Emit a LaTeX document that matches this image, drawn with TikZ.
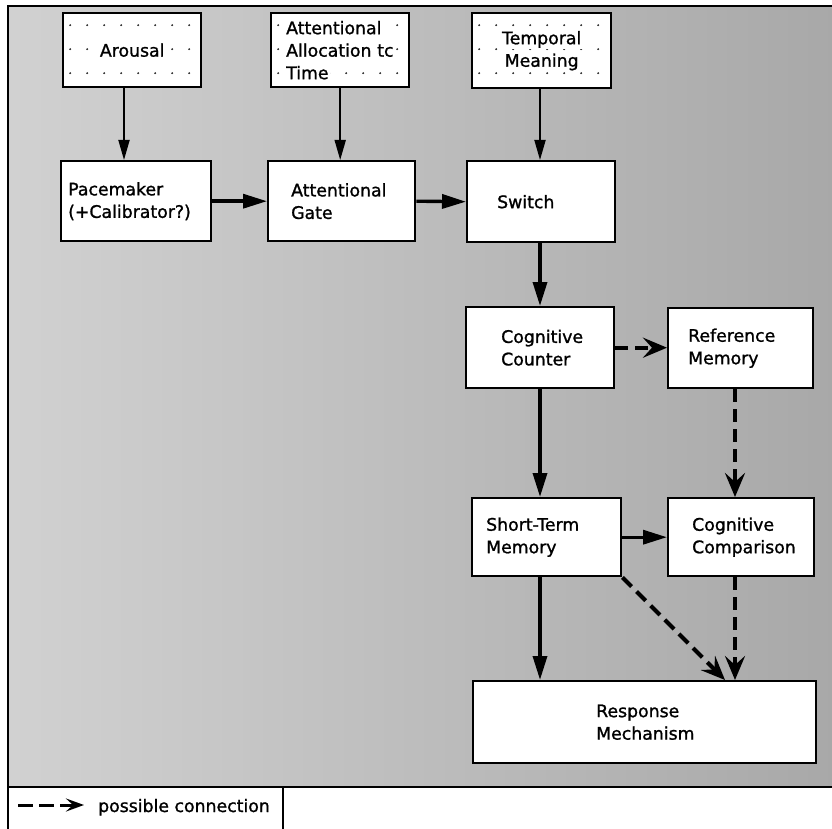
\documentclass[tikz,border=0pt]{standalone}
\usepackage{fontspec}
\setmainfont{DejaVu Sans}[FakeBold=1.2]
\usetikzlibrary{arrows.meta}
\hyphenpenalty=10000
\exhyphenpenalty=10000
\newcommand{\lblfont}{\fontsize{17.3}{22.5}\selectfont}
\newcommand{\wbg}[1]{{\setlength{\fboxsep}{1.5pt}\colorbox{white}{#1}}}
\begin{document}
\begin{tikzpicture}[x=1pt,y=-1pt,
  lbl/.style={font=\lblfont},
  box/.style={draw, line width=2.4pt, fill=white, anchor=north west, inner xsep=0pt, inner ysep=0pt, align=left, lbl},
  dotbox/.style={box, align=center, path picture={
      \foreach \i in {0,...,7} \foreach \j in {0,1,2}
        \fill[black!85] ([xshift=7pt+\i*17pt, yshift=-12pt-\j*24pt]path picture bounding box.north west) circle (1.05pt);}},
  thinarrow/.style={line width=1.8pt, -{Triangle[length=20pt,width=11pt]}},
  thickarrow/.style={line width=3.4pt, -{Triangle[length=24pt,width=14pt]}},
  possible/.style={line width=4.2pt, dash pattern=on 13pt off 7pt, -{Stealth[length=24pt,width=20pt,inset=9pt]}},
  framebd/.style={line width=2.6pt}
]
\useasboundingbox (0,0) rectangle (832,829);
% background frame
\shade[left color=black!18, right color=black!34] (8,6) rectangle (832,787);
\draw[framebd] (832,6) -- (8,6) -- (8,787) -- (832,787);
% legend
\draw[framebd] (8,787) -- (8,835) (283,787) -- (283,835);
\coordinate (lgA) at (18,805);
\coordinate (lgB) at (84,805);
\draw[line width=3pt, dash pattern=on 15pt off 6pt, -{Stealth[length=18pt,width=13pt,inset=7pt]}] (lgA) -- (lgB);
\node[lbl, anchor=base west, inner sep=0pt] (lgtext) at (98,812) {possible connection};

% top dotted boxes
\node[dotbox, minimum width=138pt, minimum height=74pt, text width=120pt] (arousal) at (62,12) {\wbg{Arousal}};
\node[dotbox, align=left, minimum width=138pt, minimum height=74pt, text width=111pt] (alloc) at (270,12) {\wbg{Attentional}\\\wbg{Allocation tc}\\\wbg{Time}};
\node[dotbox, minimum width=139pt, minimum height=75pt, text width=121pt] (temporal) at (471,12) {\wbg{Temporal}\\\wbg{Meaning}};

% main boxes
\node[box, minimum width=150pt, minimum height=80pt, text width=136pt] (pacemaker) at (60,160) {Pacemaker\\(+Calibrator?)};
\node[box, minimum width=147pt, minimum height=80pt, text width=101pt] (gate) at (267,160) {Attentional\\Gate};
\node[box, minimum width=148pt, minimum height=81pt, text width=88pt] (switch) at (466,160) {Switch};
\node[box, minimum width=148pt, minimum height=81pt, text width=78pt] (counter) at (465,306) {Cognitive\\Counter};
\node[box, minimum width=145pt, minimum height=80pt, text width=105pt] (reference) at (667,307) {Reference\\Memory};
\node[box, minimum width=149pt, minimum height=78pt, text width=121pt] (stm) at (471,497) {Short-Term\\Memory};
\node[box, minimum width=146pt, minimum height=78pt, text width=98pt] (comparison) at (667,497) {Cognitive\\Comparison};
\node[box, minimum width=343pt, minimum height=82pt, text width=97pt] (response) at (472,680) {Response\\Mechanism};

% helper columns
\coordinate (c124) at (124,0);
\coordinate (c540) at (540,0);
\coordinate (c735) at (735,0);
\coordinate (d725) at (725,0);

% connectors
\draw[thinarrow] (arousal.south -| c124) -- (pacemaker.north -| c124);
\draw[thinarrow] (alloc.south) -- (alloc.south |- gate.north);
\draw[thinarrow] (temporal.south -| c540) -- (switch.north -| c540);
\draw[thickarrow] (pacemaker.east) -- (gate.west);
\draw[thickarrow] (gate.east) -- (switch.west);
\draw[thickarrow] (switch.south -| c540) -- (counter.north -| c540);
\draw[possible] (counter.east) -- (counter.east -| reference.west);
\draw[thickarrow] (counter.south -| c540) -- (stm.north -| c540);
\draw[possible] (reference.south -| c735) -- (comparison.north -| c735);
\draw[thickarrow] (stm.east) -- (stm.east -| comparison.west);
\draw[thickarrow] (stm.south -| c540) -- (response.north -| c540);
\draw[possible] (stm.south east) -- (response.north -| d725);
\draw[possible] (comparison.south -| c735) -- (response.north -| c735);
\end{tikzpicture}
\end{document}
